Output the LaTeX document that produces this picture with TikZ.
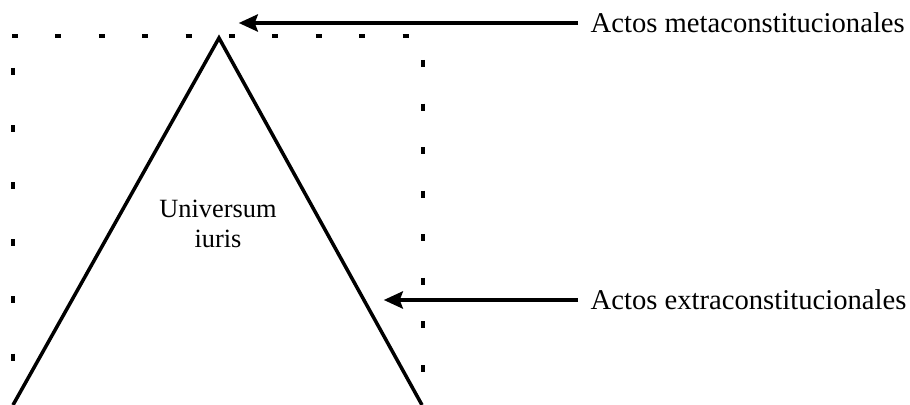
\documentclass[tikz,border=0pt]{standalone}
\usepackage{fontspec}
\setmainfont{Liberation Serif}
\usetikzlibrary{arrows.meta}

\begin{document}
\begin{tikzpicture}[
		x=0.02cm, y=-0.02cm,
		>={Stealth[length=0.38cm, width=0.34cm, inset=0.06cm]},
		side/.style={line width=2pt, line join=miter},
		dots/.style={line width=2.2pt},
		pointer/.style={->, line width=2.4pt, shorten >=1pt},
		label/.style={font=\fontsize{16.3}{19}\selectfont, anchor=west, inner sep=7pt},
		inside/.style={font=\fontsize{15}{17}\selectfont, align=center}
		]
		\useasboundingbox (0,0) rectangle (910,405);
		
		% --- 1. The pyramid ---
		\coordinate (apex) at (219,38);
		\coordinate (baseL) at (13,405);
		\coordinate (baseR) at (422,405);
		\draw[side] (baseL) -- (apex) -- (baseR);
		\node[inside] (universum) at (218,224) {Universum\\iuris};
		
		% --- 2. The dotted frame ---
		\draw[dots, dash pattern=on 3.4pt off 21.3pt] (12,36) -- (420,36);
		\draw[dots, dash pattern=on 4pt off 28.5pt] (13,68) -- (13,405);
		\draw[dots, dash pattern=on 4pt off 20.8pt] (423,60) -- (423,405);
		
		% --- 3. The labels and their arrows ---
		\node[label] (meta) at (578,23) {Actos metaconstitucionales};
		\node[label] (extra) at (578,300) {Actos extraconstitucionales};
		\coordinate (metatip) at (237,23);
		\coordinate (extratip) at (382,300);
		
		\draw[pointer] (meta.west) -- (metatip);
		\draw[pointer] (extra.west) -- (extratip);
		
	\end{tikzpicture}
\end{document}
